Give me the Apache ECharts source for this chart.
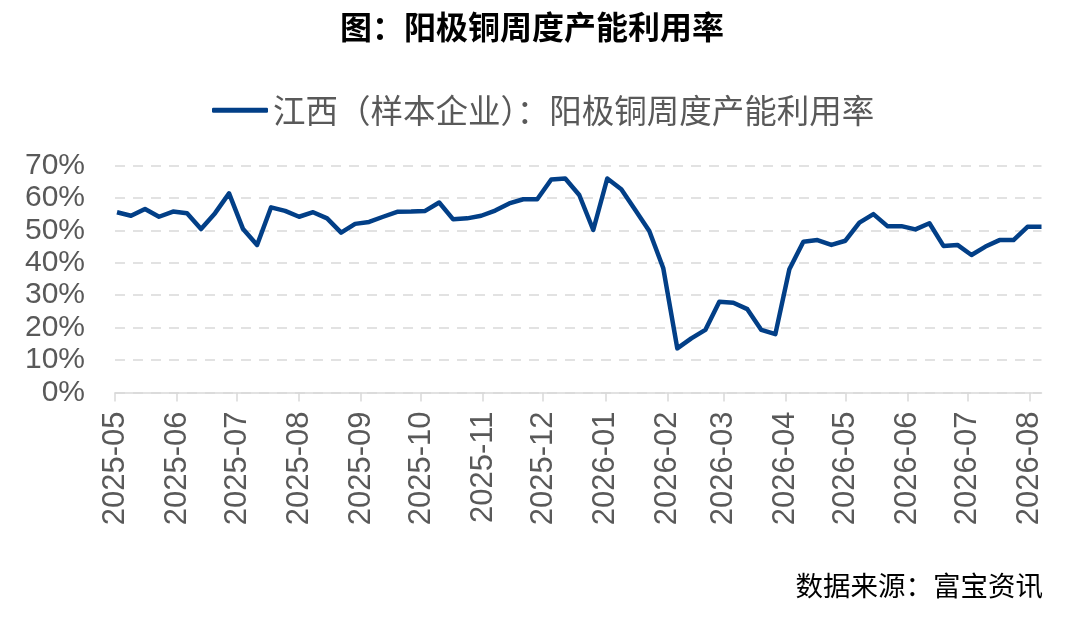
<!DOCTYPE html>
<html>
<head>
<meta charset="utf-8">
<script src="https://cdn.jsdelivr.net/npm/echarts@6/dist/echarts.min.js"></script>
<style>
html,body{margin:0;padding:0;background:#fff;}
#c{width:1080px;height:617px;}
</style>
</head>
<body>
<div id="c"></div>
<script>
const titleText = '图：阳极铜周度产能利用率';
const seriesName = '江西（样本企业）：阳极铜周度产能利用率';
const sourceText = '数据来源：富宝资讯';

const dates = [
  '2025-05-02','2025-05-09','2025-05-16','2025-05-23','2025-05-30',
  '2025-06-06','2025-06-13','2025-06-20','2025-06-27',
  '2025-07-04','2025-07-11','2025-07-18','2025-07-25',
  '2025-08-01','2025-08-08','2025-08-15','2025-08-22','2025-08-29',
  '2025-09-05','2025-09-12','2025-09-19','2025-09-26',
  '2025-10-03','2025-10-10','2025-10-17','2025-10-24','2025-10-31',
  '2025-11-07','2025-11-14','2025-11-21','2025-11-28',
  '2025-12-05','2025-12-12','2025-12-19','2025-12-26',
  '2026-01-02','2026-01-09','2026-01-16','2026-01-23','2026-01-30',
  '2026-02-06','2026-02-13','2026-02-20','2026-02-27',
  '2026-03-06','2026-03-13','2026-03-20','2026-03-27',
  '2026-04-03','2026-04-10','2026-04-17','2026-04-24',
  '2026-05-01','2026-05-08','2026-05-15','2026-05-22','2026-05-29',
  '2026-06-05','2026-06-12','2026-06-19','2026-06-26',
  '2026-07-03','2026-07-10','2026-07-17','2026-07-24','2026-07-31',
  '2026-08-07'
];

const values = [
  55.6, 54.5, 56.6, 54.2, 55.8,
  55.3, 50.4, 55.3, 61.4,
  50.4, 45.5, 57.1, 56.0,
  54.2, 55.6, 53.7, 49.3, 52.0,
  52.6, 54.2, 55.7, 55.8,
  56.0, 58.6, 53.4, 53.7, 54.5,
  56.1, 58.3, 59.6, 59.6,
  65.7, 66.0, 60.9, 50.1,
  66.0, 62.7, 56.3, 49.8, 38.3,
  13.6, 16.7, 19.3, 28.0,
  27.7, 25.7, 19.3, 18.0,
  38.0, 46.5, 47.0, 45.5,
  46.8, 52.4, 55.0, 51.3, 51.3,
  50.3, 52.2, 45.2, 45.5,
  42.4, 45.0, 47.0, 47.0, 51.1,
  51.1
];

const monthTicks = [
  '2025-05','2025-06','2025-07','2025-08','2025-09','2025-10','2025-11','2025-12',
  '2026-01','2026-02','2026-03','2026-04','2026-05','2026-06','2026-07','2026-08'
];

const yTicks = [0, 10, 20, 30, 40, 50, 60, 70];

const DAY = 86400000;
function toDay(s) {
  const p = s.split('-').map(Number);
  return Math.round(Date.UTC(p[0], p[1] - 1, p[2] || 1) / DAY);
}

const monthDays = monthTicks.map(toDay);
const seriesData = dates.map((d, i) => [toDay(d), values[i]]);

const chart = echarts.init(document.getElementById('c'), null, {renderer: 'canvas'});

const sansLatin = 'Liberation Sans, Arial, sans-serif';
const sansCJK = '"Noto Sans CJK SC", sans-serif';

chart.setOption({
  animation: false,
  backgroundColor: '#ffffff',
  title: {
    text: titleText,
    left: 335,
    top: 6,
    textStyle: {
      fontFamily: sansCJK,
      fontSize: 32,
      fontWeight: 'bold',
      color: '#000000'
    }
  },
  legend: {
    left: 207,
    top: 89,
    itemWidth: 56,
    itemHeight: 5,
    icon: 'roundRect',
    itemGap: 10,
    textStyle: {
      fontFamily: sansCJK,
      fontSize: 32.5,
      color: '#595959'
    },
    data: [seriesName]
  },
  grid: {
    left: 115,
    right: 38.5,
    top: 165.5,
    bottom: 224.5,
    containLabel: false
  },
  xAxis: {
    type: 'value',
    min: toDay('2025-05-01'),
    max: toDay('2026-08-07'),
    axisLine: {show: true, lineStyle: {color: '#d9d9d9', width: 1.5}},
    axisTick: {
      show: true,
      length: 9,
      lineStyle: {color: '#d9d9d9', width: 1.5},
      customValues: monthDays
    },
    axisLabel: {
      show: true,
      rotate: 90,
      margin: 19,
      fontFamily: sansLatin,
      fontSize: 31,
      color: '#595959',
      customValues: monthDays,
      showMinLabel: true,
      showMaxLabel: true,
      formatter: function (v) {
        const i = monthDays.indexOf(v);
        return i >= 0 ? monthTicks[i] : '';
      }
    },
    splitLine: {show: false}
  },
  yAxis: {
    type: 'value',
    min: yTicks[0],
    max: yTicks[yTicks.length - 1],
    interval: 10,
    axisLine: {show: false},
    axisTick: {show: false},
    axisLabel: {
      margin: 30,
      fontFamily: sansLatin,
      fontSize: 30,
      color: '#595959',
      formatter: '{value}%'
    },
    splitLine: {
      show: true,
      lineStyle: {color: '#d9d9d9', width: 1.5, type: [10, 8]}
    }
  },
  graphic: [
    {
      type: 'text',
      right: 37,
      top: 572,
      style: {
        text: sourceText,
        font: '27.5px "Noto Sans CJK SC", sans-serif',
        fill: '#000000'
      }
    }
  ],
  series: [
    {
      name: seriesName,
      type: 'line',
      data: seriesData,
      showSymbol: false,
      symbol: 'none',
      lineStyle: {color: '#023f87', width: 4.5, join: 'round'},
      itemStyle: {color: '#023f87'}
    }
  ]
});
</script>
</body>
</html>
